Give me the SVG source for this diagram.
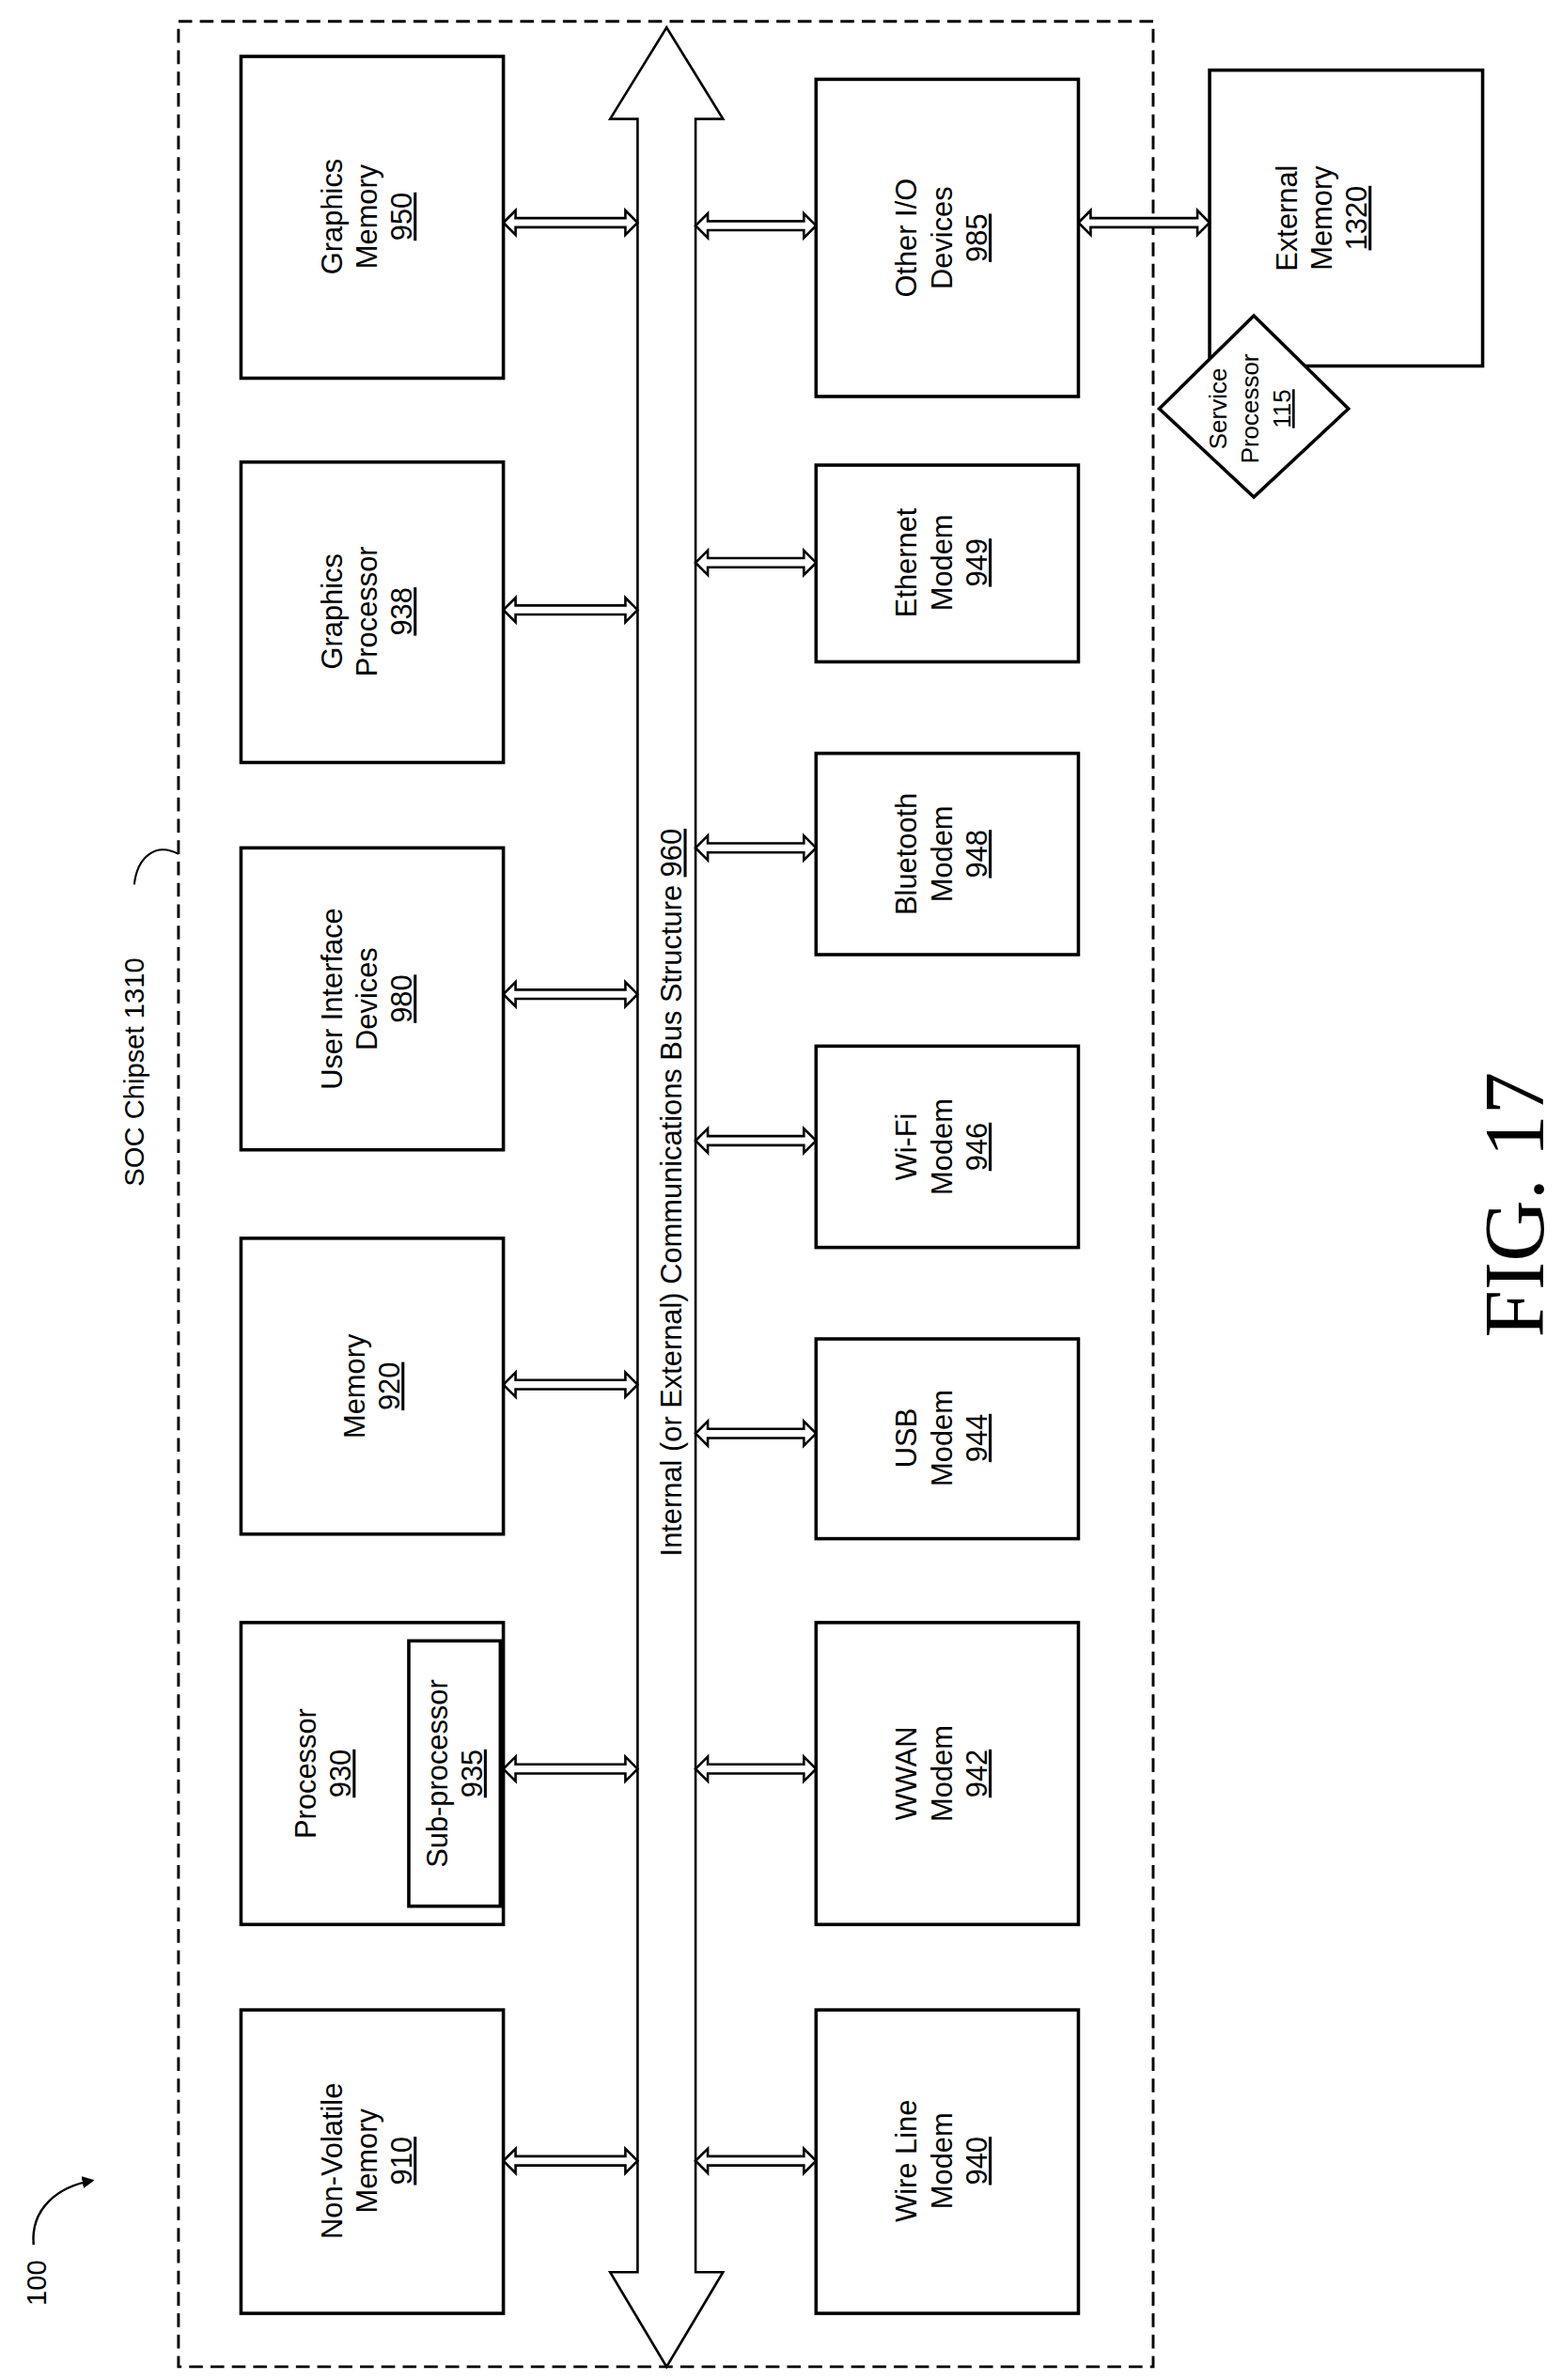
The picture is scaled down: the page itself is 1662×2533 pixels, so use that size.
<svg xmlns="http://www.w3.org/2000/svg" width="1662" height="2533" viewBox="0 0 1662 2533">
<style>
.b{fill:#fff;stroke:#000;stroke-width:2.2}
.t{font-family:"Liberation Sans",Arial,sans-serif;font-size:19px;text-anchor:middle;fill:#000}
.u{text-decoration:underline}
.a{fill:#fff;stroke:#000;stroke-width:1.6}
</style>
<defs>
<marker id="m" markerWidth="8" markerHeight="8" refX="6" refY="4" orient="auto" markerUnits="userSpaceOnUse"><path d="M0,0 L8,4 L0,8 z" fill="#000"/></marker>
</defs>
<rect width="1662" height="2533" fill="#fff"/>
<g transform="scale(1.623)">
<g id="soc"><rect x="117" y="14" width="639" height="1538" fill="none" stroke="#000" stroke-width="1.8" stroke-dasharray="9,5"/>
<text class="t" style="font-size:18px" transform="translate(88,703) rotate(-90)" dy="6">SOC Chipset 1310</text>
<path d="M88,580 C90,562 102,552 117,560" fill="none" stroke="#000" stroke-width="1.3"/></g>
<g id="ref100"><text class="t" style="font-size:18px" transform="translate(24,1497) rotate(-90)" dy="6">100</text>
<path d="M22,1472 C20,1448 38,1434 60,1430" fill="none" stroke="#000" stroke-width="1.5" marker-end="url(#m)"/></g>
<g id="bus"><path class="a" d="M437,18 L474,78 L456,78 L456,1490 L474,1490 L437,1552 L400,1490 L418,1490 L418,78 L400,78 Z" stroke-width="2"/>
<text class="t" style="font-size:19px" transform="translate(441,782) rotate(-90)" dy="6">Internal (or External) Communications Bus Structure <tspan class="u">960</tspan></text></g>
<g id="connectors">
<path class="a" d="M330,146 l8,-8 v5 h72 v-5 l8,8 l-8,8 v-5 h-72 v5 z"/>
<path class="a" d="M330,400 l8,-8 v5 h72 v-5 l8,8 l-8,8 v-5 h-72 v5 z"/>
<path class="a" d="M330,652 l8,-8 v5 h72 v-5 l8,8 l-8,8 v-5 h-72 v5 z"/>
<path class="a" d="M330,908 l8,-8 v5 h72 v-5 l8,8 l-8,8 v-5 h-72 v5 z"/>
<path class="a" d="M330,1160 l8,-8 v5 h72 v-5 l8,8 l-8,8 v-5 h-72 v5 z"/>
<path class="a" d="M330,1417 l8,-8 v5 h72 v-5 l8,8 l-8,8 v-5 h-72 v5 z"/>
<path class="a" d="M456,148 l8,-8 v5 h63 v-5 l8,8 l-8,8 v-5 h-63 v5 z"/>
<path class="a" d="M456,369 l8,-8 v5 h63 v-5 l8,8 l-8,8 v-5 h-63 v5 z"/>
<path class="a" d="M456,556 l8,-8 v5 h63 v-5 l8,8 l-8,8 v-5 h-63 v5 z"/>
<path class="a" d="M456,748 l8,-8 v5 h63 v-5 l8,8 l-8,8 v-5 h-63 v5 z"/>
<path class="a" d="M456,940 l8,-8 v5 h63 v-5 l8,8 l-8,8 v-5 h-63 v5 z"/>
<path class="a" d="M456,1160 l8,-8 v5 h63 v-5 l8,8 l-8,8 v-5 h-63 v5 z"/>
<path class="a" d="M456,1417 l8,-8 v5 h63 v-5 l8,8 l-8,8 v-5 h-63 v5 z"/>
<path class="a" d="M707,146 l8,-8 v5 h70 v-5 l8,8 l-8,8 v-5 h-70 v5 z"/>
</g>
<g id="gm"><rect class="b" x="158" y="37" width="172" height="211"/><g class="t" transform="translate(244,142) rotate(-90)"><text y="-20">Graphics</text><text y="3">Memory</text><text y="26" class="u">950</text></g></g>
<g id="gp"><rect class="b" x="158" y="303" width="172" height="197"/><g class="t" transform="translate(244,401) rotate(-90)"><text y="-20">Graphics</text><text y="3">Processor</text><text y="26" class="u">938</text></g></g>
<g id="ui"><rect class="b" x="158" y="556" width="172" height="198"/><g class="t" transform="translate(244,655) rotate(-90)"><text y="-20">User Interface</text><text y="3">Devices</text><text y="26" class="u">980</text></g></g>
<g id="mem"><rect class="b" x="158" y="812" width="172" height="194"/><g class="t" transform="translate(244,909) rotate(-90)"><text y="-5">Memory</text><text y="18" class="u">920</text></g></g>
<g id="proc"><rect class="b" x="158" y="1064" width="172" height="198"/><g class="t" transform="translate(212,1163) rotate(-90)"><text y="-5">Processor</text><text y="18" class="u">930</text></g>
<rect class="b" x="268" y="1076" width="60" height="174"/><g class="t" transform="translate(298,1163) rotate(-90)"><text y="-5">Sub-processor</text><text y="18" class="u">935</text></g></g>
<g id="nvm"><rect class="b" x="158" y="1318" width="172" height="199"/><g class="t" transform="translate(244,1417) rotate(-90)"><text y="-20">Non-Volatile</text><text y="3">Memory</text><text y="26" class="u">910</text></g></g>
<g id="io"><rect class="b" x="535" y="52" width="172" height="208"/><g class="t" transform="translate(621,156) rotate(-90)"><text y="-20">Other I/O</text><text y="3">Devices</text><text y="26" class="u">985</text></g></g>
<g id="eth"><rect class="b" x="535" y="305" width="172" height="129"/><g class="t" transform="translate(621,369) rotate(-90)"><text y="-20">Ethernet</text><text y="3">Modem</text><text y="26" class="u">949</text></g></g>
<g id="bt"><rect class="b" x="535" y="494" width="172" height="132"/><g class="t" transform="translate(621,560) rotate(-90)"><text y="-20">Bluetooth</text><text y="3">Modem</text><text y="26" class="u">948</text></g></g>
<g id="wifi"><rect class="b" x="535" y="686" width="172" height="132"/><g class="t" transform="translate(621,752) rotate(-90)"><text y="-20">Wi-Fi</text><text y="3">Modem</text><text y="26" class="u">946</text></g></g>
<g id="usb"><rect class="b" x="535" y="878" width="172" height="131"/><g class="t" transform="translate(621,943) rotate(-90)"><text y="-20">USB</text><text y="3">Modem</text><text y="26" class="u">944</text></g></g>
<g id="wwan"><rect class="b" x="535" y="1064" width="172" height="198"/><g class="t" transform="translate(621,1163) rotate(-90)"><text y="-20">WWAN</text><text y="3">Modem</text><text y="26" class="u">942</text></g></g>
<g id="wire"><rect class="b" x="535" y="1318" width="172" height="199"/><g class="t" transform="translate(621,1417) rotate(-90)"><text y="-20">Wire Line</text><text y="3">Modem</text><text y="26" class="u">940</text></g></g>
<g id="ext"><rect class="b" x="793" y="46" width="179" height="194"/><g class="t" transform="translate(870,143) rotate(-90)"><text y="-20">External</text><text y="3">Memory</text><text y="26" class="u">1320</text></g></g>
<g id="sp"><polygon class="b" points="760,268 822,207 884,268 822,326"/><g class="t" style="font-size:16px" transform="translate(816,268) rotate(-90)"><text y="-12">Service</text><text y="9">Processor</text><text y="30" class="u">115</text></g></g>
<text transform="translate(1012,790) rotate(-90)" text-anchor="middle" style="font-family:'Liberation Serif',serif;font-size:56px">FIG. 17</text>
</g>
</svg>
